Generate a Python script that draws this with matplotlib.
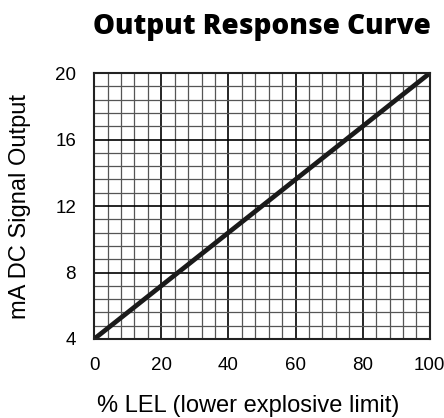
import numpy as np
import matplotlib.pyplot as plt

# Data
lel_pct = [0, 100]
signal_ma = [4, 20]
x_ticks = [0, 20, 40, 60, 80, 100]
y_ticks = [4, 8, 12, 16, 20]

plt.rcParams['font.family'] = ['Liberation Sans', 'DejaVu Sans']

fig = plt.figure(figsize=(4.44, 4.18), dpi=100)
ax = fig.add_axes([0.212, 0.189, 0.756, 0.636])

# Grid
ax.set_xticks(np.arange(0, 101, 4), minor=True)
ax.set_yticks(np.arange(4, 20.01, 0.8), minor=True)
ax.grid(which='minor', color='#555555', linewidth=0.9)
ax.grid(which='major', color='black', linewidth=1.2)
ax.set_axisbelow(True)

# Response line
ax.plot(lel_pct, signal_ma, color='#1a1a1a', linewidth=3.4, solid_capstyle='butt')

ax.set_xlim(0, 100)
ax.set_ylim(4, 20)
ax.set_xticks(x_ticks)
ax.set_yticks(y_ticks)
ax.tick_params(which='both', length=0, labelsize=13.5, pad=13)
for s in ax.spines.values():
    s.set_linewidth(1.5)
    s.set_color('#222222')

ax.set_xlabel('% LEL (lower explosive limit)', fontsize=17)
ax.xaxis.set_label_coords(0.458, -0.21)
ax.set_ylabel('mA DC Signal Output', fontsize=17)
ax.yaxis.set_label_coords(-0.188, 0.5)
ax.set_title('Output Response Curve', fontsize=20, fontweight='heavy',
             family=['Open Sans', 'DejaVu Sans'], pad=28)

fig.savefig('out.png', dpi=100)
